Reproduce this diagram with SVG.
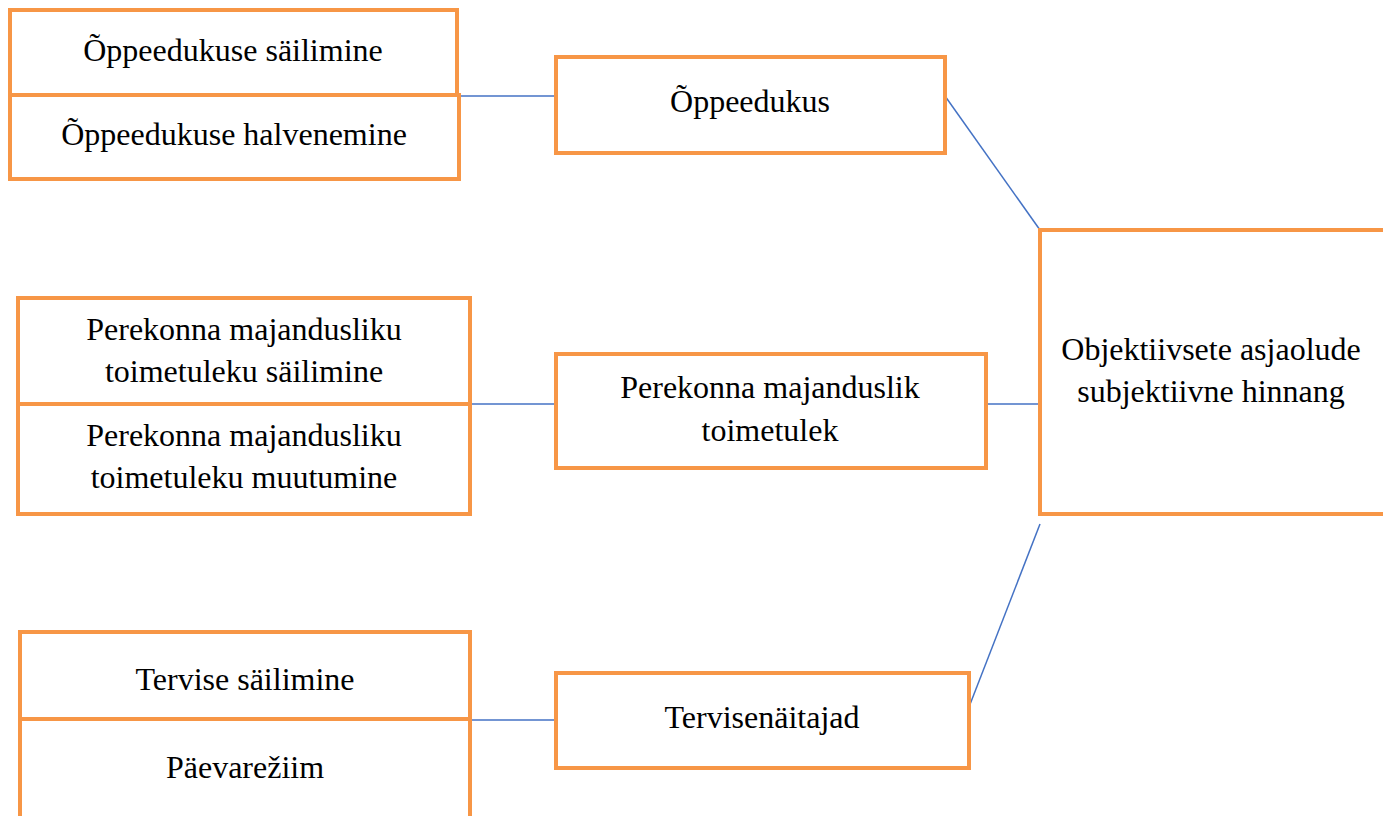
<svg xmlns="http://www.w3.org/2000/svg" width="1383" height="816" viewBox="0 0 1383 816">
<style>
.box{fill:#fff;stroke:#F79646;stroke-width:4}
.t{font-family:"Liberation Serif","Times New Roman",serif;font-size:32px;fill:#000;text-anchor:middle}
.c{stroke:#4472C4;stroke-width:1.5;fill:none}
</style>
<rect width="1383" height="816" fill="#fff"/>
<g id="connectors">
<line class="c" x1="459" y1="96" x2="556" y2="96"/>
<line class="c" x1="945" y1="96" x2="1040" y2="230"/>
<line class="c" x1="470" y1="404" x2="556" y2="404"/>
<line class="c" x1="986" y1="404" x2="1040" y2="404"/>
<line class="c" x1="470" y1="720" x2="556" y2="720"/>
<line class="c" x1="969" y1="707" x2="1040" y2="524"/>
</g>
<g id="n1"><rect class="box" x="10" y="10" width="447" height="85"/><text class="t" x="233" y="61">Õppeedukuse säilimine</text></g>
<g id="n2"><rect class="box" x="10" y="95" width="449" height="84"/><text class="t" x="234" y="145">Õppeedukuse halvenemine</text></g>
<g id="n3"><rect class="box" x="556" y="57" width="389" height="96"/><text class="t" x="750" y="112">Õppeedukus</text></g>
<g id="n4"><rect class="box" x="18" y="298" width="452" height="106"/><text class="t" x="244" y="340">Perekonna majandusliku</text><text class="t" x="244" y="382">toimetuleku säilimine</text></g>
<g id="n5"><rect class="box" x="18" y="404" width="452" height="110"/><text class="t" x="244" y="446">Perekonna majandusliku</text><text class="t" x="244" y="488">toimetuleku muutumine</text></g>
<g id="n6"><rect class="box" x="556" y="354" width="430" height="114"/><text class="t" x="770" y="398">Perekonna majanduslik</text><text class="t" x="770" y="441">toimetulek</text></g>
<g id="n7"><rect class="box" x="1040" y="230" width="350" height="284"/><text class="t" x="1211" y="360">Objektiivsete asjaolude</text><text class="t" x="1211" y="402">subjektiivne hinnang</text></g>
<g id="n8"><rect class="box" x="20" y="632" width="450" height="87"/><text class="t" x="245" y="690">Tervise säilimine</text></g>
<g id="n9"><rect class="box" x="20" y="719" width="450" height="110"/><text class="t" x="245" y="778">Päevarežiim</text></g>
<g id="n10"><rect class="box" x="556" y="673" width="413" height="95"/><text class="t" x="762" y="728">Tervisenäitajad</text></g>
</svg>
